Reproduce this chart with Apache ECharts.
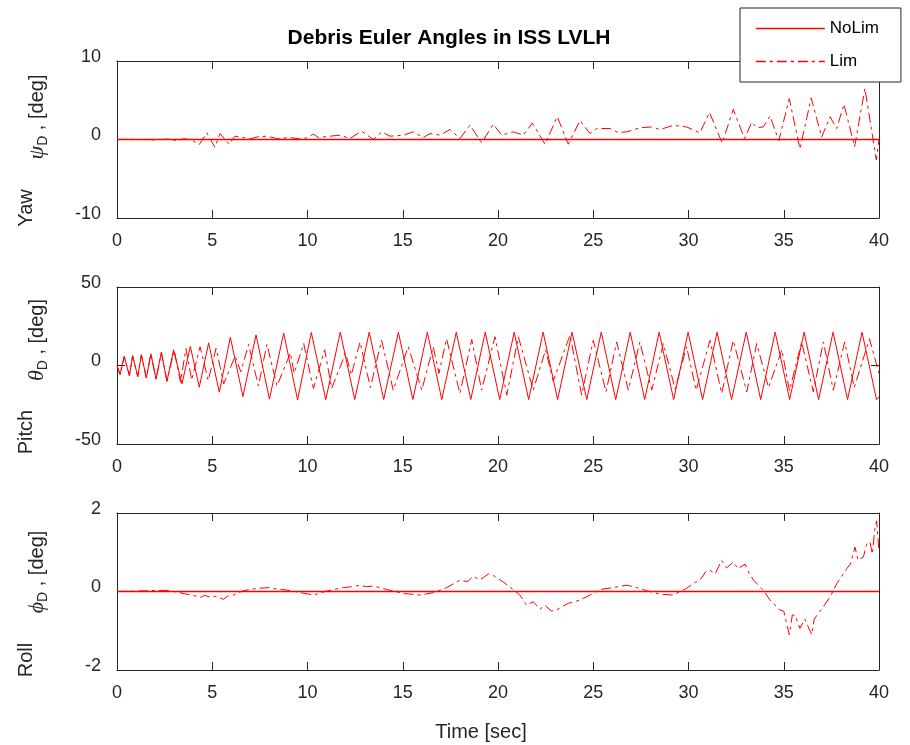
<!DOCTYPE html>
<html><head><meta charset="utf-8">
<script src="https://cdn.jsdelivr.net/npm/echarts/dist/echarts.min.js"></script>
<style>html,body{margin:0;padding:0;background:#fff}#c{width:910px;height:745px}</style>
</head><body><div id="c"></div>
<script>
// ---------- data ----------
const xTickValues = [0,5,10,15,20,25,30,35,40];
const yawTicks = [-10,0,10];
const pitchTicks = [-50,0,50];
const rollTicks = [-2,0,2];
const seriesNames = ['NoLim','Lim'];

const yawNoLimT = [0, 10, 20, 30, 40];
const yawNoLimV = [0, 0, 0, 0, 0];
const yawLimT = [0,1.0,2.0,2.6,2.9,3.15,3.5,3.9,4.32,4.71,5.14,5.41,5.88,6.19,6.63,6.98,7.4,7.86,8.38,9.08,9.78,10.31,10.57,11.18,11.71,12.23,12.84,13.46,13.89,14.33,15.03,15.55,16.08,16.43,16.96,17.48,18.0,18.53,19.14,19.75,20.19,20.8,21.33,21.8,22.47,23.11,23.69,24.3,24.83,25.18,25.88,26.3,26.76,27.45,28.07,28.5,29.2,29.9,30.6,31.1,31.77,32.35,32.94,33.32,33.6,33.93,34.28,34.74,35.29,35.85,36.44,36.99,37.43,37.78,38.16,38.72,39.26,39.86,40];
const yawLimV = [0,0.02,-0.05,0.05,0.0,-0.2,0.1,-0.05,-0.64,0.85,-1.0,0.76,-0.6,0.42,0.25,0.08,0.35,0.42,0.13,0.25,0.0,0.68,0.25,0.42,0.55,0.13,1.06,0.0,0.97,0.42,0.55,0.97,0.25,0.76,0.55,1.27,0.13,1.82,-0.42,1.95,0.55,0.97,0.55,2.1,-0.6,2.9,-0.6,2.4,0.76,1.4,1.4,0.9,0.97,1.5,1.6,1.27,1.8,1.6,0.85,3.45,-0.45,3.85,0.13,2.2,1.5,1.6,3.0,-0.15,5.2,-1.2,5.3,0.3,2.9,1.4,4.5,-0.93,6.5,-2.6,0];

const pitchNoLimT = [0,0.16,0.38,0.65,0.82,1.09,1.28,1.54,1.78,2.05,2.33,2.62,2.97,3.41,3.85,4.32,4.81,5.37,5.95,6.61,7.30,8.0,8.75,9.48,10.2,10.96,11.72,12.48,13.24,14.0,14.77,15.53,16.29,17.05,17.81,18.57,19.33,20.09,20.85,21.61,22.37,23.13,23.89,24.66,25.42,26.18,26.94,27.70,28.46,29.22,29.98,30.74,31.50,32.26,33.03,33.79,34.55,35.31,36.07,36.83,37.59,38.35,39.11,39.87,40];
const pitchNoLimV = [0,-5.7,5.7,-6.4,6.2,-7.0,6.8,-7.9,7.4,-8.7,8.5,-10.2,10,-11.7,12.1,-13.8,14.4,-17,18,-19.7,19.5,-21.4,20.6,-21.9,21,-21.7,21.2,-21.7,21.2,-21.7,21.2,-21.7,21.2,-21.7,21.2,-21.7,21.2,-21.7,21.2,-21.7,21.2,-21.7,21.2,-21.7,21.2,-21.7,21.2,-21.7,21.2,-21.7,21.2,-21.7,21.2,-21.7,21.2,-21.7,21.2,-21.7,21.2,-21.7,21.2,-21.7,21.2,-21.7,-20];
const pitchLimT = [0,0.16,0.38,0.65,0.82,1.09,1.28,1.54,1.78,2.05,2.33,2.62,3.01,3.33,3.62,3.92,4.36,4.79,5.2,5.6,6.2,6.5,6.91,7.42,7.87,8.4,9.1,9.3,9.8,10.31,10.9,11.27,12.0,12.3,12.76,13.3,13.89,14.5,15.29,16.0,16.6,16.9,17.3,18.0,18.62,19.14,19.84,20.46,21.07,21.85,22.5,22.9,23.78,24.39,25.0,25.67,26.23,26.84,27.45,28.07,28.68,29.3,29.9,30.4,31.13,31.74,32.35,33.06,33.58,34.2,34.9,35.3,35.94,36.55,37.08,37.6,38.2,38.7,39.5,40];
const pitchLimV = [0,-5.7,5.7,-6.4,6.2,-7.0,6.8,-7.9,7.4,-8.7,8.0,-9.5,9.6,-10.6,10.8,-9.3,11.9,-9.6,11.0,-11.7,6,-4,13.4,-13,13.5,-13,8,-5,14,-14.6,10,-14.6,8,-6,15,-14,16,-15.7,12,-15.7,12,-5,17,-17.8,16.6,-15.7,18.3,-18.9,18.3,-15.7,10,-10,19.3,-18.9,16.1,-16.8,15,-15.7,15,-15.7,14,-15,12,-15.7,16,-17.8,16,-16.8,14,-14,10,-16,15,-16.8,15,-15.7,15,-14,17,-5];

const rollNoLimT = [0, 10, 20, 30, 40];
const rollNoLimV = [0, 0, 0, 0, 0];
const rollLimT = [0,2.6,3.2,3.66,4.0,4.36,4.6,4.88,5.2,5.58,5.8,6.1,6.63,7.33,8.03,8.4,8.73,9.43,10.31,11.0,11.88,12.3,12.76,13.1,13.46,14.16,15.03,15.91,16.61,17.31,18.0,18.4,18.7,19.0,19.23,19.5,19.75,20.28,20.8,21.15,21.5,21.85,22.2,22.47,22.8,23.08,23.4,23.69,24.3,24.83,25.35,26.05,26.76,27.28,27.81,28.5,29.2,29.9,30.3,30.6,30.9,31.13,31.4,31.74,32.0,32.35,32.6,32.97,33.2,33.41,33.93,34.28,34.8,35.0,35.29,35.45,35.59,35.85,36.1,36.47,36.6,36.9,37.43,37.78,38.3,38.5,38.74,38.9,39.18,39.35,39.53,39.65,39.79,39.88,40];
const rollLimV = [0,0.03,-0.02,-0.07,-0.1,-0.15,-0.1,-0.14,-0.12,-0.2,-0.12,-0.09,0.02,0.08,0.1,0.06,0.05,-0.01,-0.09,0.01,0.1,0.12,0.16,0.12,0.14,0.05,-0.05,-0.09,-0.03,0.1,0.29,0.25,0.39,0.3,0.35,0.45,0.41,0.24,0.05,-0.09,-0.35,-0.26,-0.45,-0.35,-0.5,-0.47,-0.38,-0.3,-0.22,-0.09,0.05,0.1,0.16,0.1,0.02,-0.07,-0.09,0.08,0.22,0.29,0.5,0.54,0.45,0.79,0.6,0.75,0.58,0.7,0.45,0.29,0.03,-0.22,-0.47,-0.5,-1.1,-0.6,-0.6,-0.94,-0.7,-1.1,-0.7,-0.51,-0.14,0.2,0.58,0.7,1.13,0.8,0.88,1.2,1.26,0.95,1.64,1.8,1.0];

// ---------- chart ----------
const zip = (t, v) => t.map((x, i) => [x, v[i]]);
const AX = '#262626';
const RED = '#ff0000';
const FONT = '"Liberation Sans", Arial, Helvetica, sans-serif';
const GL = 117, GW = 762, GH = 157;
const tops = [61, 287, 513];
const yTickSets = [yawTicks, pitchTicks, rollTicks];

const grids = [], xAxes = [], yAxes = [];
function common() {
  return {axisLine: {show: true, onZero: false, lineStyle: {color: AX, width: 1}},
    axisTick: {show: true, inside: true, length: 8, lineStyle: {color: AX}},
    splitLine: {show: false}, minorSplitLine: {show: false}};
}
tops.forEach((top, i) => {
  grids.push({left: GL, top: top, width: GW, height: GH});
  const yt = yTickSets[i];
  const xmin = xTickValues[0], xmax = xTickValues[xTickValues.length-1], xint = xTickValues[1]-xTickValues[0];
  xAxes.push(Object.assign(common(), {gridIndex: i, type: 'value', position: 'bottom', min: xmin, max: xmax, interval: xint,
    axisLabel: {show: true, color: AX, fontSize: 18, fontFamily: FONT, margin: 14}}));
  xAxes.push(Object.assign(common(), {gridIndex: i, type: 'value', position: 'top', min: xmin, max: xmax, interval: xint,
    axisLabel: {show: false}}));
  yAxes.push(Object.assign(common(), {gridIndex: i, type: 'value', position: 'left', min: yt[0], max: yt[2], interval: yt[1]-yt[0],
    axisLabel: {show: true, color: AX, fontSize: 18, fontFamily: FONT, margin: 16, verticalAlign: 'bottom', lineHeight: 8}}));
  yAxes.push(Object.assign(common(), {gridIndex: i, type: 'value', position: 'right', min: yt[0], max: yt[2], interval: yt[1]-yt[0],
    axisLabel: {show: false}}));
});

const DASHDOT = [10, 4, 3, 4];
function mk(name, i, data, dashed, width) {
  return {name: name, type: 'line', xAxisIndex: 2*i, yAxisIndex: 2*i, data: data, color: RED,
    symbol: 'none', showSymbol: false, animation: false, clip: true, z: 3,
    lineStyle: {color: RED, width: width, type: dashed ? DASHDOT : 'solid', opacity: 1},
    itemStyle: {color: RED}};
}
const series = [
  mk(seriesNames[0], 0, zip(yawNoLimT, yawNoLimV), false, 1.6),
  mk(seriesNames[1], 0, zip(yawLimT, yawLimV), true, 1),
  mk(seriesNames[0], 1, zip(pitchNoLimT, pitchNoLimV), false, 1),
  mk(seriesNames[1], 1, zip(pitchLimT, pitchLimV), true, 1),
  mk(seriesNames[0], 2, zip(rollNoLimT, rollNoLimV), false, 1.6),
  mk(seriesNames[1], 2, zip(rollLimT, rollLimV), true, 1)
];

function ylab(x1, y1, word, x2, y2, greek) {
  return [
    {type: 'text', x: x1, y: y1, rotation: Math.PI/2, z: 20,
      style: {text: word, font: '20px ' + FONT, fill: AX, align: 'center', verticalAlign: 'middle', textAlign: 'center', textVerticalAlign: 'middle'}},
    {type: 'text', x: x2, y: y2, rotation: Math.PI/2, z: 20,
      style: {text: '{g|' + greek + '}{s|D}{n| , [deg]}', align: 'center', verticalAlign: 'middle', textAlign: 'center', textVerticalAlign: 'middle',
        rich: {
          g: {fontSize: 22, fontStyle: 'italic', fontFamily: '"Liberation Serif", "DejaVu Serif", serif', fill: AX, color: AX, lineHeight: 26},
          s: {fontSize: 14, fontFamily: FONT, fill: AX, color: AX, lineHeight: 12, verticalAlign: 'bottom'},
          n: {fontSize: 20, fontFamily: FONT, fill: AX, color: AX, lineHeight: 26}
        }}}
  ];
}

const option = {
  backgroundColor: '#fff',
  color: [RED, RED],
  animation: false,
  title: {text: 'Debris Euler Angles in ISS LVLH', left: 444, top: 23, textAlign: 'center',
    textStyle: {fontSize: 21, fontWeight: 'bold', color: '#000', fontFamily: FONT}},
  legend: {data: seriesNames, orient: 'vertical', left: 740, top: 8, itemWidth: 69, itemHeight: 14, itemGap: 16,
    padding: [12, 22, 12, 15], borderColor: AX, borderWidth: 1, backgroundColor: '#fff', z: 10,
    itemStyle: {opacity: 0, borderWidth: 0},
    lineStyle: {width: 1.6},
    textStyle: {fontSize: 17, color: '#000', fontFamily: FONT, lineHeight: 16}},
  grid: grids, xAxis: xAxes, yAxis: yAxes, series: series,
  graphic: [].concat(
    ylab(26, 208, 'Yaw', 37, 117, 'ψ'),
    ylab(26, 432, 'Pitch', 37, 340, 'θ'),
    ylab(26, 660, 'Roll', 37, 572, 'ϕ'),
    [{type: 'text', x: 481, y: 732, z: 20, style: {text: 'Time [sec]', font: '20px ' + FONT, fill: AX, align: 'center', verticalAlign: 'middle', textAlign: 'center', textVerticalAlign: 'middle'}}]
  )
};
const chart = echarts.init(document.getElementById('c'), null, {renderer: 'canvas'});
chart.setOption(option);
</script></body></html>
